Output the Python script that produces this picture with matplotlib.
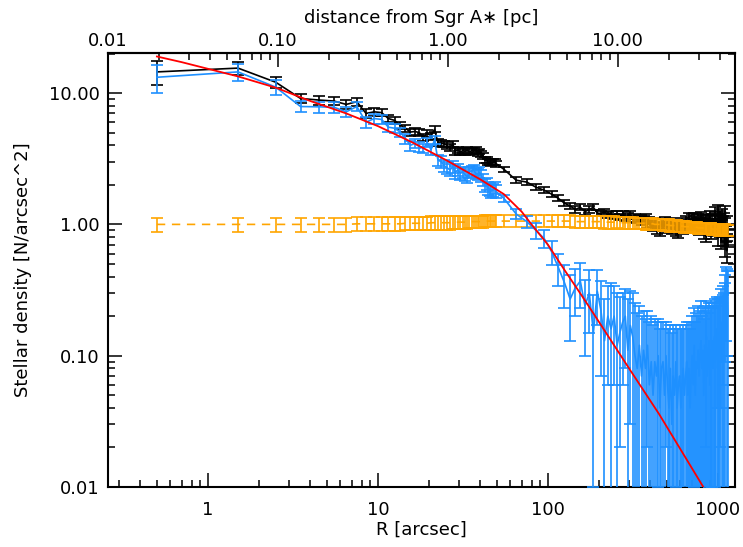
import numpy as np
import matplotlib
matplotlib.use("Agg")
import matplotlib.pyplot as plt
from matplotlib.ticker import FixedLocator, LogLocator, NullFormatter

# ---------------- data ----------------
PC_PER_ARCSEC = 0.0388

r_inner = np.arange(0.5, 50.0, 1.0)      # 1" bins
r_outer = np.arange(55.0, 1150.0, 10.0)  # 10" bins

black_inner = [14.5, 15.5, 12.1, 9.1, 8.85, 8.7, 8.2, 8.6, 7.0, 7.2,
               7.1, 6.4, 6.2, 5.7, 5.4, 5.05, 5.1, 5.0, 4.6, 4.95,
               4.7, 5.3, 4.2, 4.15, 4.1, 4.0, 3.85, 4.1, 3.6, 3.7,
               3.55, 3.65, 3.6, 3.7, 3.55, 3.65, 3.6, 3.7, 3.5, 3.6,
               3.45, 3.3, 3.08, 3.1, 2.97, 3.0, 2.95, 2.97, 3.0, 2.9]
black_outer = [2.63, 2.17, 2.1, 1.92, 1.82, 1.7, 1.58, 1.45, 1.38, 1.3, 1.35, 1.25, 1.3,
               1.35, 1.22, 1.21, 1.25, 1.18, 1.21, 1.15, 1.2, 1.14, 1.2, 1.12, 1.16, 1.2,
               1.1, 1.15, 1.08, 1.12, 1.05, 1.1, 1.13, 1.0, 1.07, 1.02, 0.95, 1.05, 0.9,
               0.98, 0.87, 1.03, 0.95, 1.08, 0.92, 1.0, 0.97, 1.05, 0.9, 0.95, 1.02, 0.88,
               0.96, 0.85, 1.0, 0.93, 1.05, 0.9, 0.98, 1.1, 0.95, 1.0, 1.15, 0.93, 1.05,
               1.12, 0.98, 1.15, 1.0, 1.08, 0.95, 1.12, 0.9, 1.05, 1.17, 0.97, 1.1, 0.85,
               1.05, 1.13, 0.8, 1.0, 1.1, 0.92, 1.18, 0.97, 0.85, 1.1, 1.02, 0.9, 1.15,
               1.25, 0.95, 1.08, 0.78, 1.3, 1.0, 0.9, 1.15, 0.75, 1.2, 1.05, 0.8, 1.1,
               0.68, 1.25, 0.85, 0.63, 1.0, 0.8]
black_err_inner = [3.0, 1.7, 1.1, 0.7, 0.7, 0.65, 0.6, 0.6, 0.5, 0.5,
                   0.45, 0.4, 0.4, 0.35, 0.35, 0.3, 0.3, 0.3, 0.28, 0.28,
                   0.27, 0.28, 0.25, 0.25, 0.24, 0.23, 0.22, 0.23, 0.21, 0.21,
                   0.2, 0.2, 0.2, 0.2, 0.19, 0.19, 0.19, 0.19, 0.18, 0.18,
                   0.18, 0.17, 0.17, 0.17, 0.16, 0.16, 0.16, 0.16, 0.15, 0.15]
black_err_outer = [0.13, 0.11, 0.10, 0.10, 0.09, 0.09, 0.08, 0.08, 0.08, 0.07, 0.07, 0.07, 0.07,
                   0.07, 0.06, 0.06, 0.06, 0.06, 0.06, 0.06, 0.06, 0.06, 0.06, 0.06, 0.06, 0.06,
                   0.06, 0.06, 0.06, 0.06, 0.06, 0.06, 0.06, 0.06, 0.06, 0.06, 0.06, 0.06, 0.06,
                   0.06, 0.06, 0.06, 0.06, 0.06, 0.06, 0.06, 0.06, 0.06, 0.06, 0.06, 0.06, 0.06,
                   0.06, 0.06, 0.06, 0.06, 0.06, 0.06, 0.06, 0.06, 0.06, 0.06, 0.07, 0.06, 0.07,
                   0.07, 0.07, 0.07, 0.07, 0.07, 0.07, 0.07, 0.07, 0.07, 0.08, 0.07, 0.08, 0.07,
                   0.08, 0.08, 0.07, 0.08, 0.08, 0.08, 0.08, 0.08, 0.08, 0.09, 0.08, 0.09, 0.09,
                   0.10, 0.09, 0.09, 0.09, 0.11, 0.10, 0.10, 0.11, 0.10, 0.12, 0.11, 0.11, 0.12,
                   0.12, 0.14, 0.12, 0.12, 0.15, 0.13]

blue_inner = [13.2, 14.5, 11.1, 7.9, 7.86, 7.8, 7.2, 7.9, 6.0, 6.4,
              6.3, 5.5, 5.4, 5.05, 4.5, 4.0, 4.15, 3.9, 3.8, 4.2,
              3.7, 4.4, 3.1, 3.0, 2.8, 2.7, 2.6, 2.75, 2.5, 2.6,
              2.45, 2.5, 2.4, 2.3, 2.5, 2.55, 2.6, 2.45, 2.4, 2.5,
              2.35, 2.2, 1.98, 2.05, 1.9, 1.85, 1.8, 1.82, 1.9, 1.78]
blue_outer = [1.58, 1.2, 1.05, 0.9, 0.78, 0.62, 0.47, 0.36, 0.27, 0.33, 0.37, 0.24, 0.30, 0.15, 0.31, 0.22, 0.13, 0.20,
              0.16, 0.2, 0.12, 0.15, 0.18, 0.2, 0.11, 0.17, 0.14, 0.1, 0.08, 0.12, 0.07, 0.11, 0.08, 0.12, 0.06, 0.09,
              0.05, 0.09, 0.07, 0.1, 0.04, 0.08, 0.09, 0.05, 0.1, 0.06, 0.04, 0.08, 0.03, 0.07, 0.05, 0.09, 0.04, 0.06,
              0.07, 0.04, 0.06, 0.08, 0.05, 0.07, 0.09, 0.05, 0.08, 0.04, 0.07, 0.1, 0.06, 0.12, 0.05, 0.09, 0.08, 0.11,
              0.07, 0.1, 0.13, 0.08, 0.11, 0.05, 0.12, 0.09, 0.14, 0.07, 0.1, 0.13, 0.06, 0.11, 0.09, 0.13, 0.08, 0.12,
              0.14, 0.09, 0.12, 0.16, 0.08, 0.13, 0.1, 0.15, 0.11, 0.18, 0.09, 0.14, 0.2, 0.12, 0.25, 0.16, 0.3, 0.22, 0.28, 0.2]
blue_err_inner = [3.2, 2.1, 1.4, 0.75, 0.75, 0.7, 0.65, 0.65, 0.55, 0.55,
                  0.5, 0.45, 0.45, 0.4, 0.4, 0.35, 0.35, 0.35, 0.32, 0.32,
                  0.32, 0.32, 0.3, 0.3, 0.3, 0.28, 0.28, 0.28, 0.27, 0.27,
                  0.26, 0.26, 0.26, 0.25, 0.25, 0.25, 0.24, 0.24, 0.24, 0.23,
                  0.23, 0.23, 0.22, 0.22, 0.22, 0.21, 0.21, 0.21, 0.2, 0.2]
blue_err_outer = [0.1, 0.1, 0.11, 0.12, 0.12, 0.13, 0.13, 0.13, 0.14, 0.13, 0.14, 0.14, 0.15, 0.14, 0.14, 0.15, 0.14, 0.14,
                  0.2, 0.14, 0.18, 0.13, 0.12, 0.12, 0.16, 0.14, 0.16, 0.15, 0.13, 0.12, 0.13, 0.11, 0.11, 0.1, 0.12, 0.11,
                  0.12, 0.1, 0.11, 0.09, 0.12, 0.1, 0.09, 0.11, 0.08, 0.1, 0.12, 0.09, 0.12, 0.1, 0.11, 0.08, 0.12, 0.1,
                  0.1, 0.12, 0.1, 0.09, 0.11, 0.1, 0.09, 0.11, 0.1, 0.12, 0.11, 0.1, 0.12, 0.11, 0.13, 0.12, 0.12, 0.13,
                  0.13, 0.12, 0.13, 0.12, 0.12, 0.14, 0.12, 0.13, 0.12, 0.14, 0.13, 0.12, 0.15, 0.13, 0.14, 0.12, 0.15, 0.13,
                  0.13, 0.15, 0.14, 0.12, 0.16, 0.14, 0.15, 0.13, 0.16, 0.14, 0.17, 0.15, 0.14, 0.18, 0.16, 0.2, 0.17, 0.22, 0.18, 0.24]

orange_inner = [1.00, 1.00, 1.00, 1.00, 1.00, 1.00, 1.00, 1.01, 1.01, 1.01,
                1.01, 1.01, 1.01, 1.01, 1.02, 1.02, 1.02, 1.02, 1.02, 1.02,
                1.03, 1.03, 1.03, 1.03, 1.03, 1.03, 1.03, 1.04, 1.04, 1.04,
                1.04, 1.04, 1.04, 1.04, 1.05, 1.05, 1.05, 1.05, 1.05, 1.05,
                1.05, 1.05, 1.06, 1.06, 1.06, 1.06, 1.06, 1.06, 1.06, 1.06]
orange_outer = [1.06, 1.06, 1.06, 1.06, 1.06, 1.06, 1.06, 1.06, 1.06, 1.05, 1.05, 1.05, 1.05,
                1.05, 1.05, 1.05, 1.04, 1.04, 1.04, 1.04, 1.04, 1.03, 1.03, 1.03, 1.03, 1.03,
                1.03, 1.02, 1.02, 1.02, 1.02, 1.02, 1.01, 1.01, 1.01, 1.01, 1.01, 1.00, 1.00,
                1.00, 1.00, 1.00, 0.99, 0.99, 0.99, 0.99, 0.99, 0.98, 0.98, 0.98, 0.98, 0.98,
                0.98, 0.97, 0.97, 0.97, 0.97, 0.97, 0.96, 0.96, 0.96, 0.96, 0.96, 0.96, 0.95,
                0.95, 0.95, 0.95, 0.95, 0.95, 0.95, 0.94, 0.94, 0.94, 0.94, 0.94, 0.94, 0.94,
                0.94, 0.93, 0.93, 0.93, 0.93, 0.93, 0.93, 0.93, 0.93, 0.92, 0.92, 0.92, 0.92,
                0.92, 0.92, 0.92, 0.92, 0.92, 0.91, 0.91, 0.91, 0.91, 0.91, 0.91, 0.91, 0.91,
                0.91, 0.90, 0.90, 0.90, 0.90, 0.90]
orange_err_inner = [0.12, 0.12, 0.12, 0.12, 0.12, 0.12, 0.12, 0.12, 0.12, 0.12,
                    0.12, 0.12, 0.12, 0.12, 0.12, 0.12, 0.12, 0.12, 0.12, 0.12,
                    0.12, 0.12, 0.12, 0.12, 0.12, 0.12, 0.12, 0.12, 0.12, 0.12,
                    0.11, 0.11, 0.11, 0.11, 0.11, 0.11, 0.11, 0.11, 0.11, 0.11,
                    0.11, 0.11, 0.11, 0.11, 0.11, 0.11, 0.11, 0.11, 0.11, 0.11]
orange_err_outer = [0.11, 0.11, 0.11, 0.11, 0.11, 0.11, 0.11, 0.11, 0.11, 0.11, 0.11, 0.11, 0.11,
                    0.11, 0.11, 0.11, 0.11, 0.11, 0.11, 0.11, 0.10, 0.10, 0.10, 0.10, 0.10, 0.10,
                    0.10, 0.10, 0.10, 0.10, 0.10, 0.10, 0.10, 0.10, 0.10, 0.10, 0.10, 0.10, 0.10,
                    0.10, 0.10, 0.10, 0.10, 0.10, 0.10, 0.10, 0.10, 0.10, 0.10, 0.10, 0.10, 0.10,
                    0.10, 0.10, 0.10, 0.10, 0.10, 0.10, 0.10, 0.10, 0.09, 0.09, 0.09, 0.09, 0.09,
                    0.09, 0.09, 0.09, 0.09, 0.09, 0.09, 0.09, 0.09, 0.09, 0.09, 0.09, 0.09, 0.09,
                    0.09, 0.09, 0.09, 0.09, 0.09, 0.09, 0.09, 0.09, 0.09, 0.09, 0.09, 0.09, 0.09,
                    0.09, 0.09, 0.09, 0.09, 0.09, 0.09, 0.09, 0.09, 0.09, 0.09, 0.09, 0.09, 0.09,
                    0.09, 0.09, 0.09, 0.09, 0.09, 0.09]

model_r = [0.5, 0.7, 1.0, 1.5, 2.5, 4.0, 6.5, 10.0, 16.0, 25.0, 40.0, 55.0, 70.0,
           80.0, 100.0, 125.0, 160.0, 200.0, 300.0, 450.0, 600.0, 840.0]
model_y = [19.0, 17.2, 15.3, 13.4, 11.0, 8.7, 7.0, 5.6, 4.2, 3.1, 2.2, 1.7, 1.25,
           1.0, 0.7, 0.45, 0.28, 0.18, 0.08, 0.036, 0.0195, 0.0095]

x_ticks = [1, 10, 100, 1000]
x_tick_labels = ["1", "10", "100", "1000"]
y_ticks = [0.01, 0.1, 1.0, 10.0]
y_tick_labels = ["0.01", "0.10", "1.00", "10.00"]
top_ticks = [0.01, 0.1, 1.0, 10.0]
top_tick_labels = ["0.01", "0.10", "1.00", "10.00"]

# ---------------- plot ----------------
W, H = 743, 547
fig = plt.figure(figsize=(W / 100, H / 100), dpi=100)
L, R, T, B = 108, 735, 53, 487
ax = fig.add_axes([L / W, 1 - B / H, (R - L) / W, (B - T) / H])
ax.set_xscale("log")
ax.set_yscale("log")

r = np.concatenate([r_inner, r_outer])


def lower_err(vals, errs):
    v = np.asarray(vals, float)
    e = np.asarray(errs, float)
    return np.where(v - e > 0, e, v - 1e-6)


orange = np.array(orange_inner + orange_outer)
orange_err = np.array(orange_err_inner + orange_err_outer)
blue = np.array(blue_inner + blue_outer)
blue_err = np.array(blue_err_inner + blue_err_outer)
black = np.array(black_inner + black_outer)
black_err = np.array(black_err_inner + black_err_outer)

common = dict(capsize=4.5, elinewidth=1.2, capthick=1.2, lw=1.2)
ax.errorbar(r, black, yerr=[lower_err(black, black_err), black_err],
            color="black", zorder=2, **common)
ax.errorbar(r, orange, yerr=[lower_err(orange, orange_err), orange_err],
            color="orange", ls=(0, (5, 4)), zorder=3, **common)
ax.errorbar(r, blue, yerr=[lower_err(blue, blue_err), blue_err],
            color="dodgerblue", zorder=4, **common)
ax.plot(model_r, model_y, color="red", lw=1.3, zorder=6)

ax.set_xlim(0.01 / PC_PER_ARCSEC, 1260)
ax.set_ylim(0.01, 20.2)

FS = 13
ax.xaxis.set_major_locator(FixedLocator(x_ticks))
ax.set_xticklabels(x_tick_labels)
ax.xaxis.set_minor_locator(LogLocator(base=10, subs=np.arange(2, 10)))
ax.xaxis.set_minor_formatter(NullFormatter())
ax.yaxis.set_major_locator(FixedLocator(y_ticks))
ax.set_yticklabels(y_tick_labels)
ax.yaxis.set_minor_locator(LogLocator(base=10, subs=np.arange(2, 10)))
ax.yaxis.set_minor_formatter(NullFormatter())

ax.tick_params(which="both", direction="in", right=True, top=False, width=1.1)
ax.tick_params(which="major", length=10, labelsize=FS)
ax.tick_params(which="minor", length=5)
ax.tick_params(axis="x", which="major", pad=10)
ax.tick_params(axis="y", which="major", pad=6)
for s in ax.spines.values():
    s.set_linewidth(1.5)

sec = ax.secondary_xaxis("top", functions=(lambda x: x * PC_PER_ARCSEC,
                                           lambda x: x / PC_PER_ARCSEC))
sec.xaxis.set_major_locator(FixedLocator(top_ticks))
sec.set_xticklabels(top_tick_labels)
sec.xaxis.set_minor_locator(LogLocator(base=10, subs=np.arange(2, 10)))
sec.xaxis.set_minor_formatter(NullFormatter())
sec.tick_params(which="both", direction="in", width=1.1)
sec.tick_params(which="major", length=10, labelsize=FS, pad=2.5)
sec.tick_params(which="minor", length=5)
sec.spines["top"].set_linewidth(1.5)
sec.set_xlabel("distance from Sgr A\u2217 [pc]", fontsize=FS, labelpad=6)

ax.set_xlabel("R [arcsec]", fontsize=FS, labelpad=1)
ax.set_ylabel("Stellar density [N/arcsec^2]", fontsize=FS, labelpad=12)

fig.savefig("out.png", dpi=100)
